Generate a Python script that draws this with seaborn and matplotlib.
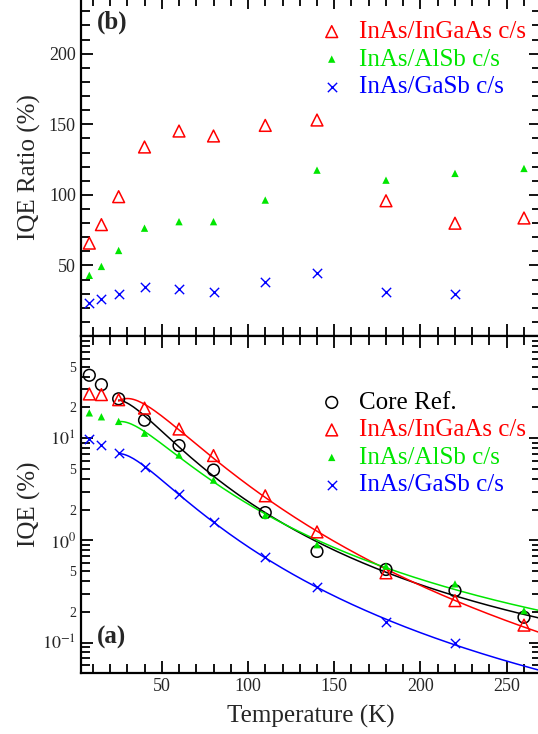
import matplotlib
matplotlib.use('Agg')
import matplotlib.pyplot as plt
import matplotlib.ticker as mticker
import seaborn as sns
import numpy as np
import pandas as pd

# temperatures (K)
temps = [8, 15, 25, 40, 60, 80, 110, 140, 180, 220, 260]
temps_gasb = [8, 15, 25, 40, 60, 80, 110, 140, 180, 220]

# (a) IQE (%)
iqe_core = [41.3, 33.4, 24.3, 15.0, 8.47, 4.88, 1.87, 0.78, 0.519, 0.322, 0.177]
iqe_ingaas = [27.1, 26.7, 23.8, 19.7, 12.3, 6.76, 2.73, 1.21, 0.481, 0.257, 0.148]
iqe_alsb = [17.7, 16.2, 14.6, 11.2, 6.85, 3.89, 1.76, 0.907, 0.56, 0.375, 0.205]
iqe_gasb = [9.84, 8.6, 7.12, 5.19, 2.83, 1.52, 0.687, 0.348, 0.16, 0.098]

# (b) IQE ratio (%)
ratio_ingaas = [65.8, 78.9, 98.7, 133.9, 145.2, 141.7, 149.2, 153.0, 95.8, 79.9, 83.6]
ratio_alsb = [43.0, 49.3, 60.6, 76.4, 81.0, 81.0, 96.3, 117.5, 110.4, 115.2, 118.7]
ratio_gasb = [23.5, 26.5, 29.8, 35.0, 33.4, 31.2, 38.3, 44.6, 31.2, 29.8]

RED = '#ff0000'
GREEN = '#00e600'
BLUE = '#0000ff'

sns.set_theme(style='ticks')
plt.rcParams['font.family'] = ['Liberation Serif', 'DejaVu Serif']
plt.rcParams['mathtext.fontset'] = 'stix'


def style_axis(ax):
    for s in ax.spines.values():
        s.set_linewidth(1.6)
        s.set_color('black')
    ax.tick_params(which='both', direction='in', top=True, right=True,
                   color='black', width=1.3)
    ax.tick_params(which='major', length=8.6, labelsize=13)
    ax.tick_params(which='minor', length=6.5)
    ax.xaxis.set_major_locator(mticker.MultipleLocator(50))
    ax.xaxis.set_minor_locator(mticker.MultipleLocator(10))
    ax.set_xlim(3, 270)


def fit_curve(t, v, tmin=25, tmax=270):
    # smooth fit in log-log space, drawn from T = 25 K up
    t = np.array(t, dtype=float)
    v = np.array(v, dtype=float)
    m = t >= tmin
    p = np.polyfit(np.log10(t[m]), np.log10(v[m]), 3)
    tt = np.linspace(tmin, tmax, 200)
    return pd.DataFrame({'T': tt, 'IQE': 10 ** np.polyval(p, np.log10(tt))})


fig = plt.figure(figsize=(5.38, 7.34), dpi=100)
ax_b = fig.add_axes([0.150, 0.5422, 0.856, 0.4616])
ax_a = fig.add_axes([0.150, 0.0827, 0.856, 0.4595])

leg_kw = dict(frameon=False, fontsize=18, handletextpad=0.5,
              labelspacing=0.2, borderaxespad=0.2, handlelength=1.2)

# ---- panel (b) ----
sns.scatterplot(x=temps, y=ratio_ingaas, ax=ax_b, marker='^', s=72,
                facecolors='none', edgecolor=RED, linewidth=1.1,
                label='InAs/InGaAs c/s')
sns.scatterplot(x=temps, y=ratio_alsb, ax=ax_b, marker='^', s=28,
                color=GREEN, edgecolor='none', label='InAs/AlSb c/s')
sns.scatterplot(x=temps_gasb, y=ratio_gasb, ax=ax_b, marker='x', s=45,
                color=BLUE, linewidth=1.0, label='InAs/GaSb c/s')
style_axis(ax_b)
ax_b.set_ylim(0, 240)
ax_b.yaxis.set_major_locator(mticker.MultipleLocator(50))
ax_b.yaxis.set_minor_locator(mticker.MultipleLocator(10))
ax_b.yaxis.set_major_formatter(mticker.FuncFormatter(
    lambda v, p: '%d' % v if v > 0 else ''))
ax_b.set_xticklabels([])
ax_b.set_ylabel('IQE Ratio (%)', fontsize=18)
ax_b.yaxis.set_label_coords(-0.087, 0.5)
ax_b.text(0.035, 0.927, '(b)', transform=ax_b.transAxes, fontsize=18,
          fontweight='bold', va='center', ha='left')
ax_b.legend(loc='upper right', bbox_to_anchor=(1.0, 0.975),
            labelcolor=[RED, GREEN, BLUE], **leg_kw)

# ---- panel (a) ----
series = [
    (temps, iqe_core, 'black'),
    (temps, iqe_ingaas, RED),
    (temps, iqe_alsb, GREEN),
    (temps_gasb, iqe_gasb, BLUE),
]
for t, v, c in series:
    fit = fit_curve(t, v)
    sns.lineplot(data=fit, x='T', y='IQE', ax=ax_a, color=c, linewidth=1.1,
                 legend=False, zorder=1)

sns.scatterplot(x=temps, y=iqe_core, ax=ax_a, marker='o', s=71,
                facecolors='none', edgecolor='black', linewidth=1.1,
                label='Core Ref.', zorder=3)
sns.scatterplot(x=temps, y=iqe_ingaas, ax=ax_a, marker='^', s=72,
                facecolors='none', edgecolor=RED, linewidth=1.1,
                label='InAs/InGaAs c/s', zorder=3)
sns.scatterplot(x=temps, y=iqe_alsb, ax=ax_a, marker='^', s=28,
                color=GREEN, edgecolor='none', label='InAs/AlSb c/s', zorder=3)
sns.scatterplot(x=temps_gasb, y=iqe_gasb, ax=ax_a, marker='x', s=45,
                color=BLUE, linewidth=1.0, label='InAs/GaSb c/s', zorder=3)

ax_a.set_yscale('log')
style_axis(ax_a)
ax_a.set_ylim(0.05, 100)
ax_a.yaxis.set_major_locator(mticker.LogLocator(base=10, numticks=10))
ax_a.yaxis.set_minor_locator(mticker.LogLocator(base=10, subs=np.arange(2, 10),
                                                numticks=20))


def major_fmt(v, p):
    if 0.05 < v < 50:
        return r'$10^{%d}$' % int(round(np.log10(v)))
    return ''


def minor_fmt(v, p):
    if v < 0.06:
        return ''
    mant = v / 10 ** np.floor(np.log10(v) + 1e-9)
    if abs(mant - 2) < 0.01 or abs(mant - 5) < 0.01:
        return '%d' % round(mant)
    return ''


ax_a.yaxis.set_major_formatter(mticker.FuncFormatter(major_fmt))
ax_a.yaxis.set_minor_formatter(mticker.FuncFormatter(minor_fmt))
ax_a.tick_params(axis='y', which='minor', labelsize=10)
ax_a.set_xlabel('Temperature (K)', fontsize=18)
ax_a.xaxis.set_label_coords(0.50, -0.093)
ax_a.set_ylabel('IQE (%)', fontsize=18)
ax_a.yaxis.set_label_coords(-0.087, 0.5)
ax_a.text(0.035, 0.105, '(a)', transform=ax_a.transAxes, fontsize=18,
          fontweight='bold', va='center', ha='left')
ax_a.legend(loc='upper right', bbox_to_anchor=(1.0, 0.88),
            labelcolor=['black', RED, GREEN, BLUE], **leg_kw)

fig.savefig('out.png', dpi=100)
